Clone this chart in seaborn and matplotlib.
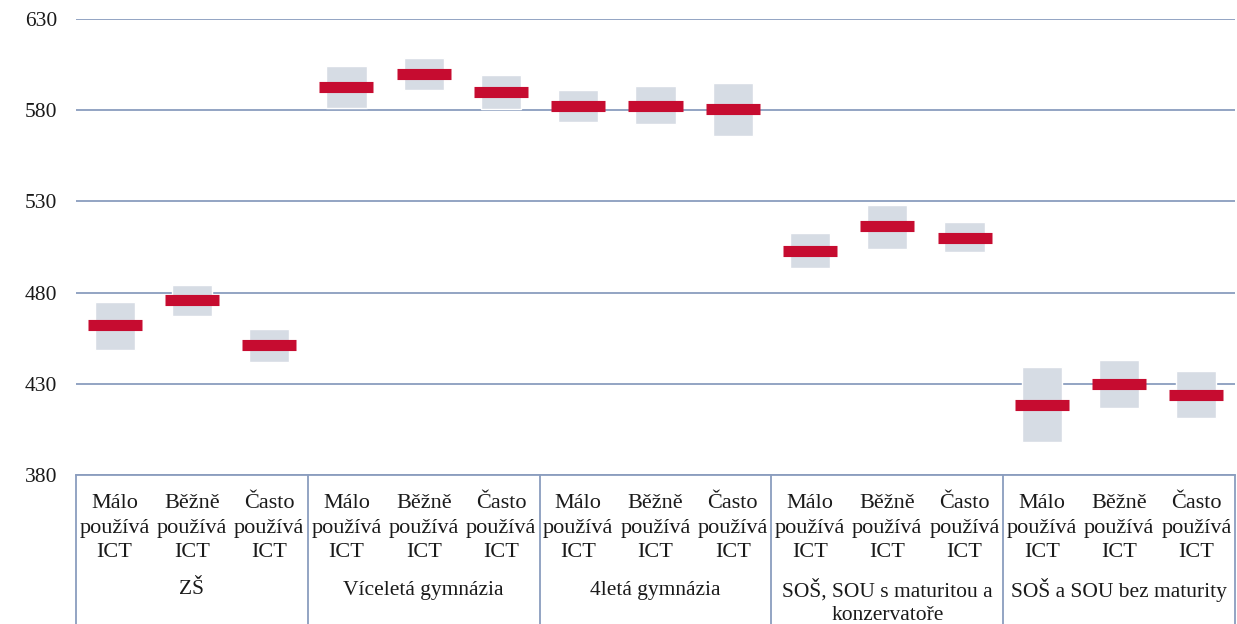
import numpy as np
import pandas as pd
import matplotlib.pyplot as plt
import matplotlib.transforms as mtransforms
import seaborn as sns

groups = ['ZŠ', 'Víceletá gymnázia', '4letá gymnázia',
          'SOŠ, SOU s maturitou a\nkonzervatoře', 'SOŠ a SOU bez maturity']
usage = ['Málo\npoužívá\nICT', 'Běžně\npoužívá\nICT', 'Často\npoužívá\nICT']

means = [462, 476, 451, 592.5, 600, 590, 582.5, 582.5, 580.5, 503, 516.5, 510, 418.5, 430, 424]
ci_low = [448.5, 467, 442, 581, 591, 580.5, 573.5, 572.5, 566, 493.5, 504, 502.5, 398, 417, 411.5]
ci_high = [475, 484, 460, 604, 608.5, 599.5, 591, 593, 595, 512.5, 528, 518.5, 439, 443, 437]
yticks = [380, 430, 480, 530, 580, 630]

df = pd.DataFrame({
    'group': np.repeat(groups, 3),
    'usage': usage * len(groups),
    'mean': means,
    'low': ci_low,
    'high': ci_high,
})
df['key'] = df['group'] + '|' + df['usage']
df['span'] = df['high'] - df['low']

sns.set_theme(style='white')
plt.rcParams['font.family'] = ['Liberation Serif', 'DejaVu Serif']

grid_col = '#8A9DBE'
red = '#C60C30'
grey = '#D6DCE4'
txt = '#1a1a1a'

fig = plt.figure(figsize=(12.37, 6.24), dpi=100)
W, H = 1237, 624
left, right, top, bottom = 76, 1235, 19, 475
ax = fig.add_axes([left / W, 1 - bottom / H, (right - left) / W, (bottom - top) / H])

# confidence range boxes
sns.barplot(data=df, x='key', y='span', bottom=df['low'].to_numpy(), color=grey,
            width=0.52, errorbar=None, saturation=1, ax=ax, zorder=2)

# mean markers
xpos = np.arange(len(df))
ax.hlines(df['mean'], xpos - 0.35, xpos + 0.35, color=red, lw=8, zorder=3)

ax.set_xlim(-0.5, len(df) - 0.5)
ax.set_ylim(380, 630)
ax.set_yticks(yticks)
ax.set_xticks([])
ax.set_xlabel('')
ax.set_ylabel('')
ax.tick_params(axis='y', length=0, pad=13.5, labelsize=15.5, labelcolor=txt)
ax.yaxis.grid(True, color=grid_col, lw=1.3, zorder=1)
ax.set_axisbelow(True)
for s in ['top', 'left', 'right']:
    ax.spines[s].set_visible(False)
ax.spines['bottom'].set_color(grid_col)
ax.spines['bottom'].set_linewidth(1.3)

# category table under the axis
trans = mtransforms.blended_transform_factory(ax.transData, ax.transAxes)
ph = bottom - top


def ay(py):
    return (bottom - py) / ph


for i, lab in enumerate(df['usage']):
    ax.text(i, ay(528), lab, transform=trans, ha='center', va='center',
            fontsize=16, linespacing=1.4, color=txt)

for g, name in enumerate(groups):
    py = 602 if '\n' in name else 590
    ax.text(3 * g + 1, ay(py), name, transform=trans, ha='center', va='center',
            fontsize=15.5, linespacing=1.35, color=txt)

for b in np.arange(-0.5, len(df), 3):
    ax.plot([b, b], [0, -0.4], transform=trans, color=grid_col, lw=1.3, clip_on=False)

fig.savefig('out.png', dpi=100)
